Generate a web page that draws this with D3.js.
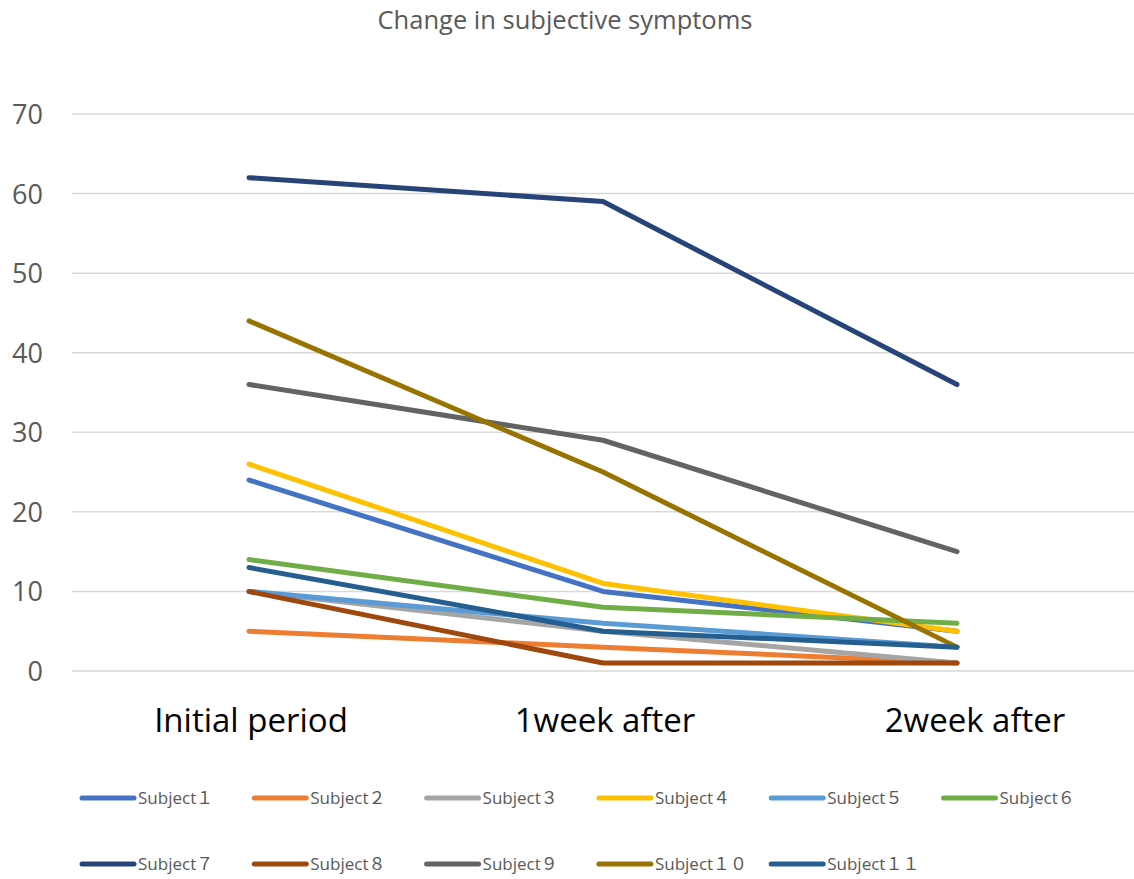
<!DOCTYPE html>
<html><head><meta charset="utf-8">
<script src="https://cdn.jsdelivr.net/npm/d3@7"></script>
<style>body{margin:0;background:#fff}svg{display:block}</style>
</head><body>
<script>
const categories = ["Initial period", "1week after", "2week after"];
const seriesNames = ["Subject１","Subject２","Subject３","Subject４","Subject５","Subject６","Subject７","Subject８","Subject９","Subject１０","Subject１１"];
const s1 = [24, 10, 5];
const s2 = [5, 3, 1];
const s3 = [10, 5, 1];
const s4 = [26, 11, 5];
const s5 = [10, 6, 3];
const s6 = [14, 8, 6];
const s7 = [62, 59, 36];
const s8 = [10, 1, 1];
const s9 = [36, 29, 15];
const s10 = [44, 25, 3];
const s11 = [13, 5, 3];
const seriesValues = [s1,s2,s3,s4,s5,s6,s7,s8,s9,s10,s11];
const colors = ["#4472C4","#ED7D31","#A5A5A5","#FFC000","#5B9BD5","#70AD47","#264478","#9E480E","#636363","#997300","#255E91"];
const yTicks = [0,10,20,30,40,50,60,70];

const W = 1134, H = 879;
const svg = d3.select("body").append("svg").attr("width", W).attr("height", H);
const font = "'Open Sans', 'Noto Sans CJK JP', sans-serif";

const x = d3.scaleBand().domain(categories).range([72, 1134]);
const y = d3.scaleLinear().domain([0, 70]).range([671, 114]);

svg.append("text").attr("x", 565).attr("y", 29).attr("text-anchor","middle")
  .attr("font-family", font).attr("font-size", 25.5).attr("fill", "#595959")
  .text("Change in subjective symptoms");

// grid
svg.append("g").selectAll("line").data(yTicks).join("line")
  .attr("x1", 72).attr("x2", 1134)
  .attr("y1", d => y(d)).attr("y2", d => y(d))
  .attr("stroke", "#D9D9D9").attr("stroke-width", 1.5);

// y axis labels
const yAxis = d3.axisLeft(y).tickValues(yTicks).tickSize(0).tickPadding(0);
const gy = svg.append("g").attr("transform", "translate(43,0)").call(yAxis);
gy.select(".domain").remove();
gy.selectAll("text").attr("font-family", font).attr("font-size", 27).attr("fill", "#595959").attr("dy","0.35em");

// x axis labels
const xAxis = d3.axisBottom(x).tickSize(0).tickPadding(0);
const gx = svg.append("g").attr("transform", "translate(0,720)").call(xAxis);
gx.select(".domain").remove();
gx.selectAll("text").attr("font-family", font).attr("font-size", 33).attr("fill", "#000").attr("dy","0.35em")
  .attr("dx", (d,i) => i === 2 ? 18 : 2);

const line = d3.line().x((d,i) => x(categories[i]) + x.bandwidth()/2).y(d => y(d));
svg.append("g").selectAll("path").data(seriesValues).join("path")
  .attr("d", d => line(d)).attr("fill","none")
  .attr("stroke", (d,i) => colors[i]).attr("stroke-width", 5)
  .attr("stroke-linecap","round").attr("stroke-linejoin","round");

// legend
const lg = svg.append("g");
seriesNames.forEach((name, i) => {
  const col = i % 6, row = Math.floor(i / 6);
  const lx = 82 + col * 172.3, ly = 798 + row * 66;
  lg.append("line").attr("x1", lx).attr("x2", lx + 52).attr("y1", ly).attr("y2", ly)
    .attr("stroke", colors[i]).attr("stroke-width", 5).attr("stroke-linecap","round");
  lg.append("text").attr("x", lx + 56).attr("y", ly).attr("dy","0.35em")
    .attr("font-family", font).attr("font-size", 17).attr("fill", "#595959").text(name);
});
</script>
</body></html>
